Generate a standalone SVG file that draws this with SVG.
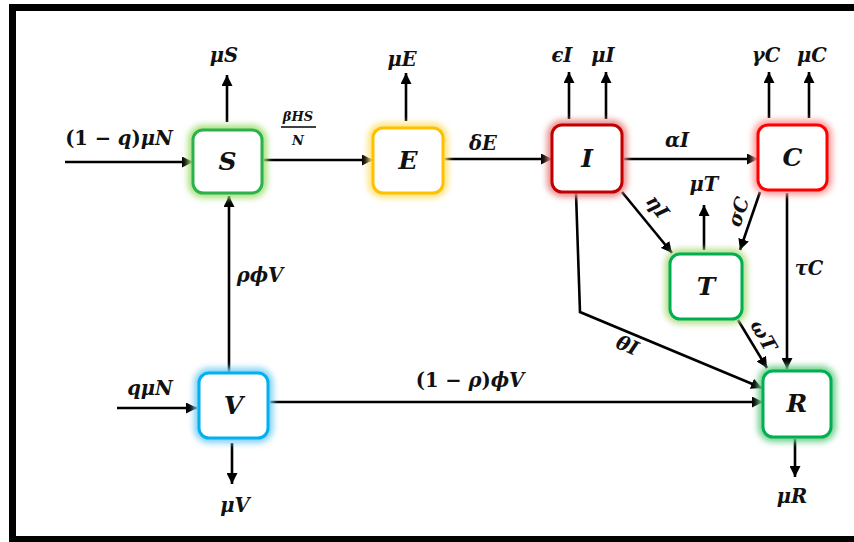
<svg xmlns="http://www.w3.org/2000/svg" width="854" height="542" viewBox="0 0 854 542">
  <defs>
    <marker id="arrow" markerUnits="userSpaceOnUse" markerWidth="12" markerHeight="11" refX="11" refY="5.5" orient="auto">
      <path d="M0,0 L11,5.5 L0,11 z" fill="#000"/>
    </marker>
    <filter id="glow" x="-30%" y="-30%" width="160%" height="160%">
      <feGaussianBlur stdDeviation="3"/>
    </filter>
  </defs>
  <style>
    .frame { fill: none; stroke: #000; stroke-width: 7; }
    .box { fill: #fff; stroke-width: 3; }
    .halo { fill: none; stroke-width: 10; filter: url(#glow); }
    .edge { fill: none; stroke: #000; stroke-width: 2.6; marker-end: url(#arrow); }
    .line { fill: none; stroke: #000; stroke-width: 1.6; }
    .lbl { font-family: "DejaVu Serif", "Liberation Serif", serif; font-weight: bold; font-style: italic; font-size: 19.5px; fill: #111; text-anchor: middle; }
    .up { font-style: normal; }
    .node { font-family: "DejaVu Serif", "Liberation Serif", serif; font-weight: bold; font-style: italic; font-size: 25px; fill: #111; text-anchor: middle; }
    .frac { font-family: "DejaVu Serif", "Liberation Serif", serif; font-weight: bold; font-style: italic; font-size: 13px; fill: #111; text-anchor: middle; }
  </style>

  <rect class="frame" x="12.5" y="7.5" width="850" height="532"/>

  <!-- connectors -->
  <g id="connectors">
    <path class="edge" d="M65,162 L193,162"/>
    <path class="edge" d="M227,122 L227,75"/>
    <path class="edge" d="M264,160 L373,160"/>
    <path class="edge" d="M406,121 L406,73"/>
    <path class="edge" d="M445,159 L552,159"/>
    <path class="edge" d="M569,119 L569,72"/>
    <path class="edge" d="M606,119 L606,72"/>
    <path class="edge" d="M624,159 L758,159"/>
    <path class="edge" d="M769,118 L769,72"/>
    <path class="edge" d="M809,118 L809,72"/>
    <path class="edge" d="M622,192 L672,253"/>
    <path class="edge" d="M704,250 L704,205"/>
    <path class="edge" d="M760,192 L740,250"/>
    <path class="edge" d="M787,193 L787,369"/>
    <path class="edge" d="M738,320 L767,368"/>
    <path class="edge" d="M576,193 L580,312 L762,388"/>
    <path class="edge" d="M229,372 L229,196"/>
    <path class="edge" d="M117,408 L197,408"/>
    <path class="edge" d="M232,443 L232,484"/>
    <path class="edge" d="M270,402 L763,402"/>
    <path class="edge" d="M795,439 L795,477"/>

    <!-- rate labels -->
    <text class="lbl" x="119" y="145"><tspan class="up">(1 − </tspan>q<tspan class="up">)</tspan>μN</text>
    <text class="lbl" x="224" y="62">μS</text>
    <text class="frac" x="298" y="121">βHS</text>
    <line class="line" x1="281" y1="127" x2="316" y2="127"/>
    <text class="frac" x="298" y="145">N</text>
    <text class="lbl" x="402" y="66">μE</text>
    <text class="lbl" x="483" y="150">δE</text>
    <text class="lbl" x="562" y="62">ϵI</text>
    <text class="lbl" x="603" y="62">μI</text>
    <text class="lbl" x="677" y="147">αI</text>
    <text class="lbl" x="766" y="62">γC</text>
    <text class="lbl" x="812" y="62">μC</text>
    <text class="lbl" x="704" y="191">μT</text>
    <text class="lbl" transform="translate(657,207) rotate(53)" y="6">ηI</text>
    <text class="lbl" transform="translate(739,212) rotate(-71)" y="6">σC</text>
    <text class="lbl" x="809" y="275">τC</text>
    <text class="lbl" transform="translate(763,336) rotate(60)" y="6">ωT</text>
    <text class="lbl" transform="translate(627,346) rotate(23)" y="6">θI</text>
    <text class="lbl" x="260" y="282">ρϕV</text>
    <text class="lbl" x="150" y="395">qμN</text>
    <text class="lbl" x="235" y="512">μV</text>
    <text class="lbl" x="470" y="387"><tspan class="up">(1 − </tspan>ρ<tspan class="up">)</tspan>ϕV</text>
    <text class="lbl" x="792" y="503">μR</text>
  </g>

  <!-- compartments -->
  <g id="S">
    <rect class="halo" x="193" y="130" width="69" height="63" rx="10" stroke="#a8e07a"/>
    <rect class="box" x="193" y="130" width="69" height="63" rx="10" stroke="#2bb24c"/>
    <text class="node" x="227.5" y="170">S</text>
  </g>
  <g id="E">
    <rect class="halo" x="373" y="128" width="70" height="65" rx="10" stroke="#ffe27a"/>
    <rect class="box" x="373" y="128" width="70" height="65" rx="10" stroke="#ffc000"/>
    <text class="node" x="408" y="169">E</text>
  </g>
  <g id="I">
    <rect class="halo" x="552" y="125" width="70" height="67" rx="10" stroke="#e88a8a"/>
    <rect class="box" x="552" y="125" width="70" height="67" rx="10" stroke="#c00000"/>
    <text class="node" x="587" y="167">I</text>
  </g>
  <g id="C">
    <rect class="halo" x="758" y="125" width="69" height="65" rx="10" stroke="#ff9a9a"/>
    <rect class="box" x="758" y="125" width="69" height="65" rx="10" stroke="#ff0000"/>
    <text class="node" x="792.5" y="166">C</text>
  </g>
  <g id="T">
    <rect class="halo" x="670" y="254" width="72" height="65" rx="10" stroke="#b5dd8a"/>
    <rect class="box" x="670" y="254" width="72" height="65" rx="10" stroke="#00b050"/>
    <text class="node" x="706" y="295">T</text>
  </g>
  <g id="R">
    <rect class="halo" x="763" y="371" width="68" height="66" rx="10" stroke="#6fd08e"/>
    <rect class="box" x="763" y="371" width="68" height="66" rx="10" stroke="#00b050"/>
    <text class="node" x="797" y="412">R</text>
  </g>
  <g id="V">
    <rect class="halo" x="199" y="373" width="69" height="65" rx="10" stroke="#7fd0f5"/>
    <rect class="box" x="199" y="373" width="69" height="65" rx="10" stroke="#00b0f0"/>
    <text class="node" x="233.5" y="414">V</text>
  </g>
</svg>
